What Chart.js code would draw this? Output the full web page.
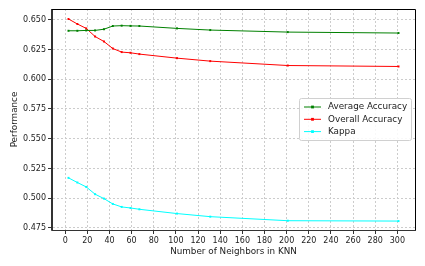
<!DOCTYPE html>
<html>
<head>
<meta charset="utf-8">
<script src="https://cdn.jsdelivr.net/npm/chart.js@4"></script>
<style>
  html, body { margin: 0; padding: 0; background: #fff; }
  #wrap { width: 425px; height: 266px; }
</style>
</head>
<body>
<div id="wrap"><canvas id="knnChart" width="425" height="266"></canvas></div>
<script>
// ===== DATA =====
const neighbors = [3, 11, 19, 27, 35, 43, 51, 59, 67, 101, 131, 201, 301];
const averageAccuracy = [0.6407, 0.6407, 0.6410, 0.6410, 0.6420, 0.6447, 0.6450, 0.6448, 0.6447, 0.6427, 0.6413, 0.6396, 0.6388];
const overallAccuracy = [0.6506, 0.6464, 0.6427, 0.6359, 0.6317, 0.6258, 0.6228, 0.6222, 0.6211, 0.6177, 0.6152, 0.6115, 0.6107];
const kappa = [0.5171, 0.5132, 0.5095, 0.5034, 0.4997, 0.4952, 0.4927, 0.4918, 0.4907, 0.4871, 0.4845, 0.4811, 0.4808];
const xTicks = [0, 20, 40, 60, 80, 100, 120, 140, 160, 180, 200, 220, 240, 260, 280, 300];
const yTicks = [0.475, 0.500, 0.525, 0.550, 0.575, 0.600, 0.625, 0.650];

const FONT = "'DejaVu Sans', sans-serif";

const toPoints = (ys) => neighbors.map((x, i) => ({ x: x, y: ys[i] }));

const makeSeries = (label, ys, color) => ({
  label: label,
  data: toPoints(ys),
  borderColor: color,
  backgroundColor: color,
  borderWidth: 1,
  pointStyle: 'rect',
  pointRadius: 1.4,
  pointHoverRadius: 1.4,
  pointBorderWidth: 0,
  tension: 0
});

// ===== FRAME + LEGEND PLUGIN =====
const framePlugin = {
  id: 'frame',
  afterDraw(chart) {
    const { ctx, chartArea: a } = chart;
    ctx.save();
    // solid box round the plot area
    ctx.strokeStyle = '#000';
    ctx.lineWidth = 1;
    ctx.setLineDash([]);
    ctx.beginPath();
    ctx.moveTo(a.left, a.top + 0.5);
    ctx.lineTo(a.right + 0.5, a.top + 0.5);
    ctx.lineTo(a.right + 0.5, a.bottom);
    ctx.stroke();
    ctx.strokeStyle = '#333';
    ctx.beginPath();
    ctx.moveTo(a.left - 0.5, a.top);
    ctx.lineTo(a.left - 0.5, a.bottom + 0.5);
    ctx.lineTo(a.right + 0.5, a.bottom + 0.5);
    ctx.stroke();

    // legend box
    const bx = 299, by = 98, bw = 112, bh = 42;
    ctx.fillStyle = 'rgba(255,255,255,0.85)';
    ctx.strokeStyle = '#d0d0d0';
    ctx.beginPath();
    ctx.roundRect(bx + 0.5, by + 0.5, bw, bh, 2);
    ctx.fill();
    ctx.stroke();

    ctx.font = '8.8px ' + FONT;
    ctx.textBaseline = 'middle';
    chart.data.datasets.forEach((ds, i) => {
      const yy = by + 9 + i * 12.3;
      ctx.strokeStyle = ds.borderColor;
      ctx.lineWidth = 1;
      ctx.beginPath();
      ctx.moveTo(304, yy);
      ctx.lineTo(321, yy);
      ctx.stroke();
      ctx.fillStyle = ds.borderColor;
      ctx.fillRect(311.1, yy - 1.4, 2.8, 2.8);
      ctx.fillStyle = '#222';
      ctx.fillText(ds.label, 328, yy);
    });
    ctx.restore();
  }
};

const gridOpts = {
  color: '#cccccc',
  tickLength: 4,
  tickColor: '#333',
  tickBorderDash: [],
  tickWidth: 1
};

// ===== CHART =====
const ctx = document.getElementById('knnChart');
new Chart(ctx, {
  type: 'line',
  data: {
    datasets: [
      makeSeries('Average Accuracy', averageAccuracy, '#008000'),
      makeSeries('Overall Accuracy', overallAccuracy, '#ff0000'),
      makeSeries('Kappa', kappa, '#00ffff')
    ]
  },
  options: {
    responsive: false,
    animation: false,
    layout: { padding: { top: 9, right: 10, left: 9, bottom: 9 } },
    plugins: {
      legend: { display: false },
      tooltip: { enabled: false }
    },
    scales: {
      x: {
        type: 'linear',
        min: -11.9,
        max: 315.9,
        afterBuildTicks: (scale) => { scale.ticks = xTicks.map(v => ({ value: v })); },
        afterFit: (scale) => { scale.height = 27; },
        border: { color: '#333', width: 1, dash: [2, 2] },
        grid: gridOpts,
        ticks: {
          color: '#222',
          font: { family: FONT, size: 8 },
          padding: 2,
          maxRotation: 0,
          autoSkip: false
        },
        title: {
          display: true,
          text: 'Number of Neighbors in KNN',
          color: '#222',
          font: { family: FONT, size: 8.8 },
          padding: { top: 1, bottom: 0 }
        }
      },
      y: {
        min: 0.4733,
        max: 0.659,
        afterBuildTicks: (scale) => { scale.ticks = yTicks.map(v => ({ value: v })); },
        afterFit: (scale) => { scale.width = 43; },
        border: { color: '#333', width: 1, dash: [2, 2] },
        grid: gridOpts,
        ticks: {
          color: '#222',
          font: { family: FONT, size: 8 },
          padding: 2,
          callback: (v) => v.toFixed(3)
        },
        title: {
          display: true,
          text: 'Performance',
          color: '#222',
          font: { family: FONT, size: 8.8 },
          padding: { top: 0, bottom: 2 }
        }
      }
    }
  },
  plugins: [framePlugin]
});
</script>
</body>
</html>
